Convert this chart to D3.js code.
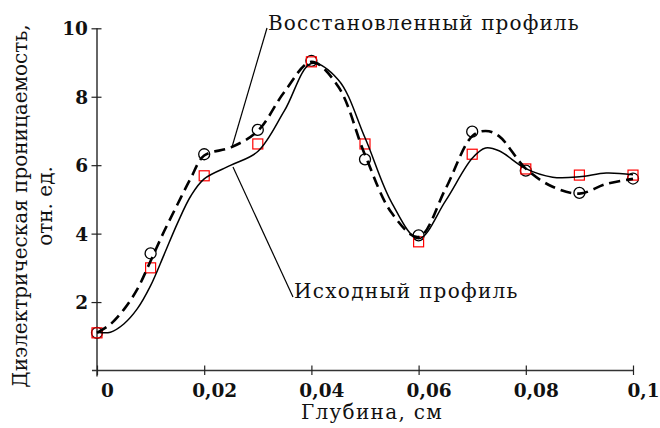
<!DOCTYPE html>
<html>
<head>
<meta charset="utf-8">
<script src="https://cdn.jsdelivr.net/npm/d3@7"></script>
<style>
  body { margin: 0; background: #fff; }
  svg { display: block; font-family: 'DejaVu Serif', serif; }
</style>
</head>
<body>
<svg id="chart" width="660" height="428"></svg>
<script>

// Depth samples of the markers (cm).
var depths = [0, 0.01, 0.02, 0.03, 0.04, 0.05, 0.06, 0.07, 0.08, 0.09, 0.1];

// Marker values.
var restoredPoints = [1.1, 3.42, 6.32, 7.03, 9.05, 6.17, 3.95, 6.98, 5.84, 5.19, 5.61];
var sourcePoints =   [1.1, 3.0, 5.69, 6.62, 9.02, 6.62, 3.76, 6.32, 5.89, 5.71, 5.71];

// Curve depths (cm).
var curveDepths = [0, 0.0025, 0.005, 0.0075, 0.01, 0.0125, 0.015, 0.0175, 0.02,
  0.025, 0.03, 0.035, 0.04, 0.045, 0.05, 0.055, 0.06, 0.065, 0.07, 0.0725,
  0.075, 0.08, 0.085, 0.09, 0.095, 0.1];

// Curve values.
var restoredCurve = [1.1, 1.35, 1.78, 2.37, 3.2, 4.06, 4.85, 5.62, 6.28,
  6.52, 7.0, 8.15, 9.02, 8.3, 6.3, 4.6, 3.9, 5.3, 6.85, 7.0,
  6.85, 5.9, 5.37, 5.17, 5.45, 5.6];
var sourceCurve = [1.12, 1.12, 1.36, 1.8, 2.48, 3.38, 4.3, 5.1, 5.6,
  6.0, 6.4, 7.6, 8.97, 8.5, 6.8, 4.9, 3.85, 4.95, 6.2, 6.5,
  6.42, 5.9, 5.65, 5.66, 5.77, 5.72];

// Tick labels.
var xTicks = [0, 0.02, 0.04, 0.06, 0.08, 0.1];
var xTickLabels = ['0', '0,02', '0,04', '0,06', '0,08', '0,1'];
var yTicks = [2, 4, 6, 8, 10];
var yTickLabels = ['2', '4', '6', '8', '10'];

// Texts.
var xTitle = 'Глубина, см';
var yTitle = ['Диэлектрическая проницаемость,', 'отн. ед.'];
var restoredName = 'Восстановленный профиль';
var sourceName = 'Исходный профиль';

var svg = d3.select('#chart');

// Scales.
var x = d3.scaleLinear().domain([0, 0.1]).range([97, 633]);
var y = d3.scaleLinear().domain([0, 10]).range([370.5, 28.3]);

// Axis lines.
svg.append('line')
  .attr('x1', 92).attr('x2', x(0.1))
  .attr('y1', y(0)).attr('y2', y(0))
  .attr('stroke', '#333').attr('stroke-width', 1.5);
svg.append('line')
  .attr('x1', x(0)).attr('x2', x(0))
  .attr('y1', y(10)).attr('y2', y(0) + 6)
  .attr('stroke', '#333').attr('stroke-width', 1.5);

// Bottom axis.
var xAxis = svg.append('g')
  .attr('transform', 'translate(0,' + y(0) + ')')
  .call(d3.axisBottom(x).tickValues(xTicks).tickSize(0)
    .tickFormat(function(d, i) { return xTickLabels[i]; }));
xAxis.select('.domain').remove();
xAxis.selectAll('.tick line')
  .attr('y1', -5).attr('y2', 4.5)
  .attr('stroke', '#222').attr('stroke-width', 1.2);
xAxis.selectAll('.tick text')
  .attr('y', 26).attr('dy', 0).attr('dx', 10)
  .attr('font-family', 'DejaVu Serif').attr('font-weight', 'bold')
  .attr('font-size', 18.5).attr('fill', '#111');

// Left axis.
var yAxis = svg.append('g')
  .attr('transform', 'translate(' + x(0) + ',0)')
  .call(d3.axisLeft(y).tickValues(yTicks).tickSize(0)
    .tickFormat(function(d, i) { return yTickLabels[i]; }));
yAxis.select('.domain').remove();
yAxis.selectAll('.tick line')
  .attr('x1', -5.5).attr('x2', 4.5)
  .attr('stroke', '#222').attr('stroke-width', 1.2);
yAxis.selectAll('.tick text')
  .attr('x', -9).attr('dy', '0.36em')
  .attr('font-family', 'DejaVu Serif').attr('font-weight', 'bold')
  .attr('font-size', 18.5).attr('fill', '#111');

// Axis titles.
svg.append('text')
  .attr('x', 372).attr('y', 419)
  .attr('text-anchor', 'middle')
  .attr('font-size', 20).attr('letter-spacing', 1.3).attr('fill', '#111')
  .text(xTitle);
svg.selectAll('.ytitle')
  .data(yTitle)
  .enter().append('text')
  .attr('class', 'ytitle')
  .attr('transform', function(d, i) {
    return 'translate(' + (27 + i * 25) + ',206) rotate(-90)';
  })
  .attr('text-anchor', 'middle')
  .attr('font-size', 20).attr('fill', '#111')
  .text(function(d) { return d; });

// Markers.
svg.selectAll('.circle')
  .data(depths)
  .enter().append('circle')
  .attr('cx', function(d) { return x(d); })
  .attr('cy', function(d, i) { return y(restoredPoints[i]); })
  .attr('r', 5.5)
  .attr('fill', 'none').attr('stroke', '#000').attr('stroke-width', 1.3);
svg.selectAll('.square')
  .data(depths)
  .enter().append('rect')
  .attr('x', function(d) { return x(d) - 5; })
  .attr('y', function(d, i) { return y(sourcePoints[i]) - 5; })
  .attr('width', 10).attr('height', 10)
  .attr('fill', 'none').attr('stroke', '#f00').attr('stroke-width', 1.2);

// Curves.
var line = function(values) {
  return d3.line()
    .x(function(d) { return x(d); })
    .y(function(d, i) { return y(values[i]); })
    .curve(d3.curveCatmullRom.alpha(0.5))(curveDepths);
};
svg.append('path')
  .attr('d', line(sourceCurve))
  .attr('fill', 'none').attr('stroke', '#000').attr('stroke-width', 1.5);
svg.append('path')
  .attr('d', line(restoredCurve))
  .attr('fill', 'none').attr('stroke', '#000').attr('stroke-width', 2.6)
  .attr('stroke-dasharray', '11,6');

// Callouts.
svg.append('line')
  .attr('x1', 267).attr('y1', 28).attr('x2', 232).attr('y2', 147)
  .attr('stroke', '#000').attr('stroke-width', 1.2);
svg.append('text')
  .attr('x', 268).attr('y', 30)
  .attr('font-size', 20).attr('letter-spacing', 1.1).attr('fill', '#111')
  .text(restoredName);
svg.append('line')
  .attr('x1', 233).attr('y1', 167).attr('x2', 293).attr('y2', 297)
  .attr('stroke', '#000').attr('stroke-width', 1.2);
svg.append('text')
  .attr('x', 294).attr('y', 298)
  .attr('font-size', 20).attr('letter-spacing', 1.3).attr('fill', '#111')
  .text(sourceName);

</script>
</body>
</html>
